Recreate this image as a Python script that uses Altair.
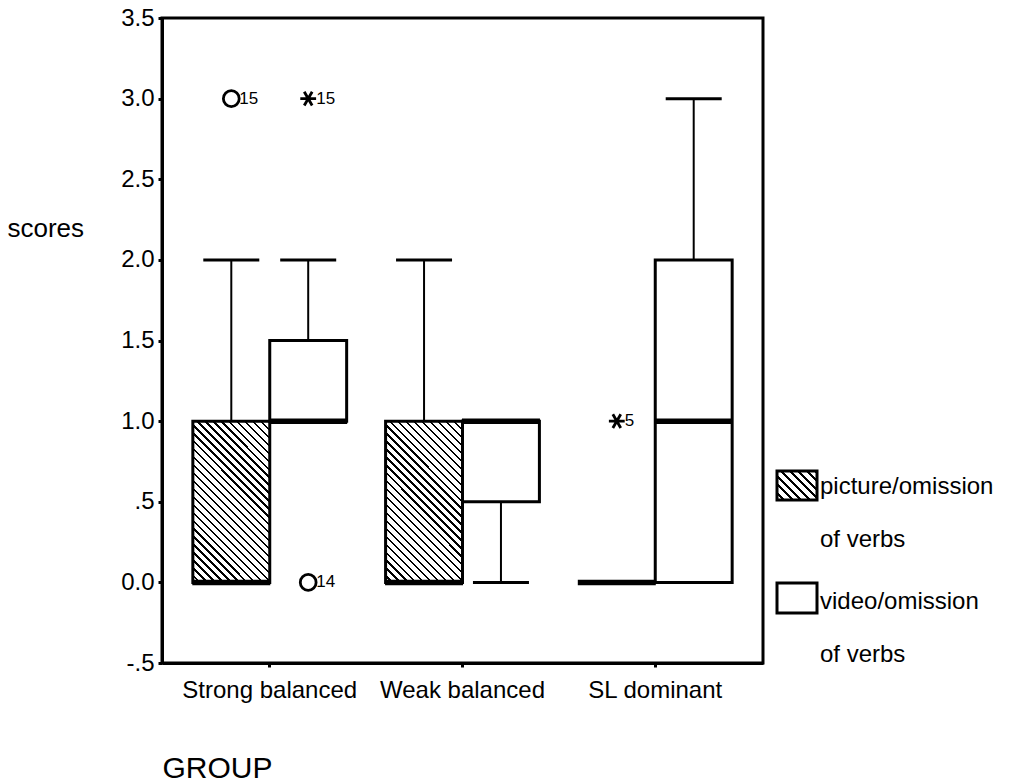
import altair as alt
import pandas as pd

# ---------------- data ----------------
groups = ["Strong balanced", "Weak balanced", "SL dominant"]
series_names = ["picture/omission of verbs", "video/omission of verbs"]

# picture/omission of verbs
pic_q1 = [0.0, 0.0, 0.0]
pic_med = [0.0, 0.0, 0.0]
pic_q3 = [1.0, 1.0, 0.0]
pic_lo = [0.0, 0.0, 0.0]
pic_hi = [2.0, 2.0, 0.0]

# video/omission of verbs
vid_q1 = [1.0, 0.5, 0.0]
vid_med = [1.0, 1.0, 1.0]
vid_q3 = [1.5, 1.0, 2.0]
vid_lo = [1.0, 0.0, 0.0]
vid_hi = [2.0, 1.0, 3.0]

# outliers: group, series, value, kind, case label
out_group = ["Strong balanced", "Strong balanced", "Strong balanced", "SL dominant"]
out_series = [series_names[0], series_names[1], series_names[1], series_names[0]]
out_value = [3.0, 3.0, 0.0, 1.0]
out_kind = ["outlier", "extreme", "outlier", "extreme"]
out_label = ["15", "15", "14", "5"]

legend_lines = [["picture/omission", "of verbs"], ["video/omission", "of verbs"]]

# ---------------- tables ----------------
rows = []
for s, (q1, md, q3, lo, hi) in zip(
    series_names,
    [(pic_q1, pic_med, pic_q3, pic_lo, pic_hi), (vid_q1, vid_med, vid_q3, vid_lo, vid_hi)],
):
    for i, g in enumerate(groups):
        rows.append(dict(group=g, series=s, q1=q1[i], med=md[i], q3=q3[i], lo=lo[i], hi=hi[i]))
box = pd.DataFrame(rows)

up = box[box.hi > box.q3].copy()
up["a"], up["b"], up["cap"] = up.q3, up.hi, up.hi
dn = box[box.lo < box.q1].copy()
dn["a"], dn["b"], dn["cap"] = dn.lo, dn.q1, dn.lo
whisk = pd.concat([up, dn], ignore_index=True)

outl = pd.DataFrame(dict(group=out_group, series=out_series, value=out_value,
                         kind=out_kind, label=out_label))

# ---------------- styling helpers ----------------
FONT = "Liberation Sans"


def hatch(W, H, n, frac):
    lam = (W + H) / (W * W + H * H)
    stops = []
    for i in range(n):
        a = i / n
        m = (i + 1 - frac) / n
        b = (i + 1) / n
        stops += [
            {"offset": round(a, 5), "color": "white"},
            {"offset": round(m, 5), "color": "white"},
            {"offset": round(m, 5), "color": "black"},
            {"offset": round(b, 5), "color": "black"},
        ]
    return {"gradient": "linear", "x1": 0, "y1": 1,
            "x2": round(lam * W, 5), "y2": round(1 - lam * H, 5), "stops": stops}


BOX_HATCH = hatch(77, 161.25, 30, 0.3)
LEG_HATCH = hatch(40, 29, 8, 0.35)

x_enc = alt.X(
    "group:N", sort=groups,
    scale=alt.Scale(domain=groups, paddingInner=0.202, paddingOuter=0.16),
    axis=alt.Axis(
        title="GROUP", labelAngle=0, labelPadding=11, labelOverlap=False, labelLimit=400,
        titleFontSize=30, titleFontWeight="normal", titleAlign="left", titleBaseline="middle",
        titleX=0, titleY=105, titleAngle=0,
    ),
)
xo_enc = alt.XOffset("series:N", sort=series_names,
                     scale=alt.Scale(domain=series_names, paddingInner=0, paddingOuter=0))
y_scale = alt.Scale(domain=[-0.5, 3.5], nice=False, zero=False)
y_axis = alt.Axis(
    title="scores", values=[-0.5, 0, 0.5, 1, 1.5, 2, 2.5, 3, 3.5],
    labelExpr="datum.value == 0.5 ? '.5' : datum.value == -0.5 ? '-.5' : format(datum.value, '.1f')",
    labelPadding=4, titleAngle=0, titleAlign="left", titleBaseline="middle",
    titleX=-155, titleY=210, titleFontSize=26, titleFontWeight="normal",
)

# whiskers
whisker_lines = alt.Chart(whisk).mark_rule(color="black", strokeWidth=2, opacity=1).encode(
    x=x_enc, xOffset=xo_enc,
    y=alt.Y("a:Q", scale=y_scale, axis=y_axis), y2="b:Q",
)
caps = alt.Chart(whisk).mark_tick(color="black", size=56, thickness=3, orient="horizontal",
                                  opacity=1).encode(
    x=x_enc, xOffset=xo_enc, y=alt.Y("cap:Q", scale=y_scale, axis=y_axis),
)

# boxes
pic_boxes = alt.Chart(box).transform_filter(
    alt.datum.series == series_names[0]
).mark_bar(fill=BOX_HATCH, stroke="black", strokeWidth=3, opacity=1).encode(
    x=x_enc, xOffset=xo_enc,
    y=alt.Y("q1:Q", scale=y_scale, axis=y_axis), y2="q3:Q",
)
vid_boxes = alt.Chart(box).transform_filter(
    alt.datum.series == series_names[1]
).mark_bar(fill="white", stroke="black", strokeWidth=3, opacity=1).encode(
    x=x_enc, xOffset=xo_enc,
    y=alt.Y("q1:Q", scale=y_scale, axis=y_axis), y2="q3:Q",
)
medians = alt.Chart(box).mark_tick(color="black", size=78, thickness=5.5, orient="horizontal",
                                   opacity=1).encode(
    x=x_enc, xOffset=xo_enc, y=alt.Y("med:Q", scale=y_scale, axis=y_axis),
)

# outliers
ASTERISK = "M-1,0L1,0M-0.5,-0.866L0.5,0.866M-0.5,0.866L0.5,-0.866"
out_marks = alt.Chart(outl).mark_point(filled=False, color="black", strokeWidth=2.8, size=250,
                                       opacity=1).encode(
    x=x_enc, xOffset=xo_enc, y=alt.Y("value:Q", scale=y_scale, axis=y_axis),
    shape=alt.Shape("kind:N", scale=alt.Scale(domain=["outlier", "extreme"], range=["circle", ASTERISK]),
                    legend=None),
)
out_text = alt.Chart(outl).mark_text(align="left", baseline="middle", dx=8, fontSize=17,
                                     font=FONT, color="black").encode(
    x=x_enc, xOffset=xo_enc, y=alt.Y("value:Q", scale=y_scale, axis=y_axis), text="label:N",
)

# manual legend (placed to the right of the plot frame)
one = pd.DataFrame({"k": [0]})
leg_pic_sw = alt.Chart(one).mark_rect(fill=LEG_HATCH, stroke="black", strokeWidth=3).encode(
    x=alt.value(615), x2=alt.value(655), y=alt.value(453), y2=alt.value(482))
leg_vid_sw = alt.Chart(one).mark_rect(fill="white", stroke="black", strokeWidth=3).encode(
    x=alt.value(615), x2=alt.value(655), y=alt.value(565), y2=alt.value(595))
leg_text = []
for (l1, l2), y1, y2 in zip(legend_lines, [469, 584], [522, 637]):
    for txt, yy in [(l1, y1), (l2, y2)]:
        leg_text.append(
            alt.Chart(one).mark_text(align="left", baseline="middle", fontSize=24, font=FONT,
                                     color="black").encode(
                x=alt.value(658), y=alt.value(yy), text=alt.value(txt))
        )

chart = alt.layer(
    whisker_lines, caps, pic_boxes, vid_boxes, medians, out_marks, out_text,
    leg_pic_sw, leg_vid_sw, *leg_text,
).properties(
    width=601, height=645,
    autosize=alt.AutoSizeParams(type="none"),
    padding={"left": 162, "top": 18, "right": 249, "bottom": 119},
    background="white",
).configure_view(
    stroke="black", strokeWidth=3,
).configure_axis(
    grid=False, domainColor="black", domainWidth=3, tickColor="black", tickWidth=3, tickSize=4,
    labelFont=FONT, labelFontSize=24, labelColor="black",
    titleFont=FONT, titleColor="black",
)

chart.save("out.html", embed_options={"renderer": "svg", "actions": False})
